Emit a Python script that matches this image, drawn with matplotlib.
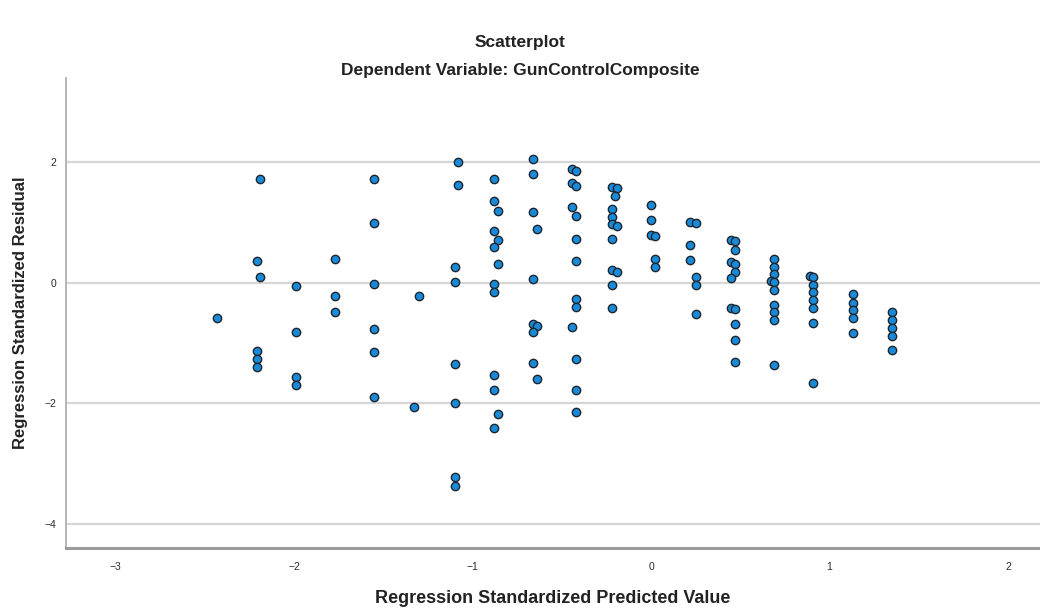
import matplotlib.pyplot as plt

# residual columns, grouped by predicted value
pred = (
    [-2.43]
    + [-2.19, -2.21, -2.19, -2.21, -2.21, -2.21]
    + [-1.99, -1.99, -1.99, -1.99]
    + [-1.77, -1.77, -1.77]
    + [-1.55, -1.55, -1.55, -1.55, -1.55, -1.55]
    + [-1.30, -1.33]
    + [-1.08, -1.08, -1.10, -1.10, -1.10, -1.10, -1.10, -1.10]
    + [-0.88, -0.88, -0.86, -0.88, -0.86, -0.88, -0.86, -0.88, -0.88, -0.88, -0.88, -0.86, -0.88]
    + [-0.66, -0.66, -0.66, -0.64, -0.66, -0.66, -0.64, -0.66, -0.66, -0.64]
    + [-0.44, -0.42, -0.44, -0.42, -0.44, -0.42, -0.42, -0.42, -0.42, -0.42, -0.44, -0.42, -0.42, -0.42]
    + [-0.22, -0.19, -0.20, -0.22, -0.22, -0.22, -0.19, -0.22, -0.22, -0.19, -0.22, -0.22]
    + [0.00, 0.00, 0.00, 0.02, 0.02, 0.02]
    + [0.22, 0.25, 0.22, 0.22, 0.25, 0.25, 0.25]
    + [0.45, 0.47, 0.47, 0.45, 0.47, 0.47, 0.45, 0.45, 0.47, 0.47, 0.47, 0.47]
    + [0.69, 0.69, 0.69, 0.67, 0.69, 0.69, 0.69, 0.69, 0.69, 0.69]
    + [0.89, 0.91, 0.91, 0.91, 0.91, 0.91, 0.91, 0.91]
    + [1.13, 1.13, 1.13, 1.13, 1.13]
    + [1.35, 1.35, 1.35, 1.35, 1.35]
)
resid = (
    [-0.59]
    + [1.72, 0.37, 0.09, -1.13, -1.27, -1.39]
    + [-0.05, -0.81, -1.56, -1.69]
    + [0.40, -0.22, -0.48]
    + [1.73, 0.99, -0.02, -0.77, -1.15, -1.90]
    + [-0.22, -2.06]
    + [2.00, 1.62, 0.27, 0.02, -1.35, -1.99, -3.23, -3.37]
    + [1.73, 1.36, 1.20, 0.86, 0.71, 0.60, 0.32, -0.02, -0.16, -1.53, -1.78, -2.18, -2.41]
    + [2.06, 1.80, 1.18, 0.90, 0.06, -0.69, -0.72, -0.82, -1.33, -1.60]
    + [1.89, 1.86, 1.65, 1.61, 1.26, 1.11, 0.73, 0.37, -0.26, -0.40, -0.74, -1.27, -1.77, -2.15]
    + [1.59, 1.57, 1.44, 1.22, 1.09, 0.97, 0.94, 0.72, 0.22, 0.18, -0.04, -0.41]
    + [1.30, 1.05, 0.80, 0.78, 0.40, 0.27]
    + [1.01, 0.99, 0.63, 0.38, 0.10, -0.03, -0.52]
    + [0.71, 0.69, 0.55, 0.35, 0.31, 0.18, 0.08, -0.41, -0.44, -0.69, -0.95, -1.32]
    + [0.39, 0.27, 0.14, 0.03, 0.01, -0.12, -0.36, -0.49, -0.62, -1.37]
    + [0.12, 0.10, -0.04, -0.16, -0.29, -0.41, -0.66, -1.66]
    + [-0.19, -0.33, -0.45, -0.58, -0.83]
    + [-0.49, -0.62, -0.75, -0.88, -1.12]
)

x_ticks = [-3, -2, -1, 0, 1, 2]
y_ticks = [-4, -2, 0, 2]

plt.rcParams['font.family'] = ['Liberation Sans', 'DejaVu Sans']

fig = plt.figure(figsize=(10.4, 6.12), dpi=100)
ax = fig.add_axes([0.0635, 0.1046, 0.9365, 0.768])

ax.scatter(pred, resid, s=36, color='#1a8ad8', edgecolors='#1c2630',
           linewidths=1.0, zorder=3)

ax.set_xlim(-3.277, 2.179)
ax.set_ylim(-4.40, 3.40)
ax.set_xticks(x_ticks)
ax.set_yticks(y_ticks)
ax.grid(axis='y', color='#d6d6d6', linewidth=1.6, zorder=0)
ax.tick_params(length=0, labelsize=7.5, colors='#2a2a2a', pad=10)
ax.tick_params(axis='y', pad=7)

for side in ['top', 'right']:
    ax.spines[side].set_visible(False)
ax.spines['left'].set_color('#b5b5b5')
ax.spines['left'].set_linewidth(1.4)
ax.spines['bottom'].set_color('#9a9a9a')
ax.spines['bottom'].set_linewidth(2.2)

ax.set_xlabel('Regression Standardized Predicted Value', fontsize=13,
              fontweight='bold', color='#222222', labelpad=13)
ax.set_ylabel('Regression Standardized Residual', fontsize=12,
              fontweight='bold', color='#222222', labelpad=12)

fig.text(0.5, 0.93, 'Scatterplot', ha='center', va='center',
         fontsize=12.5, fontweight='bold', color='#222222')
fig.text(0.5, 0.885, 'Dependent Variable: GunControlComposite', ha='center',
         va='center', fontsize=12.5, fontweight='bold', color='#222222')

fig.savefig('out.png', dpi=100)
